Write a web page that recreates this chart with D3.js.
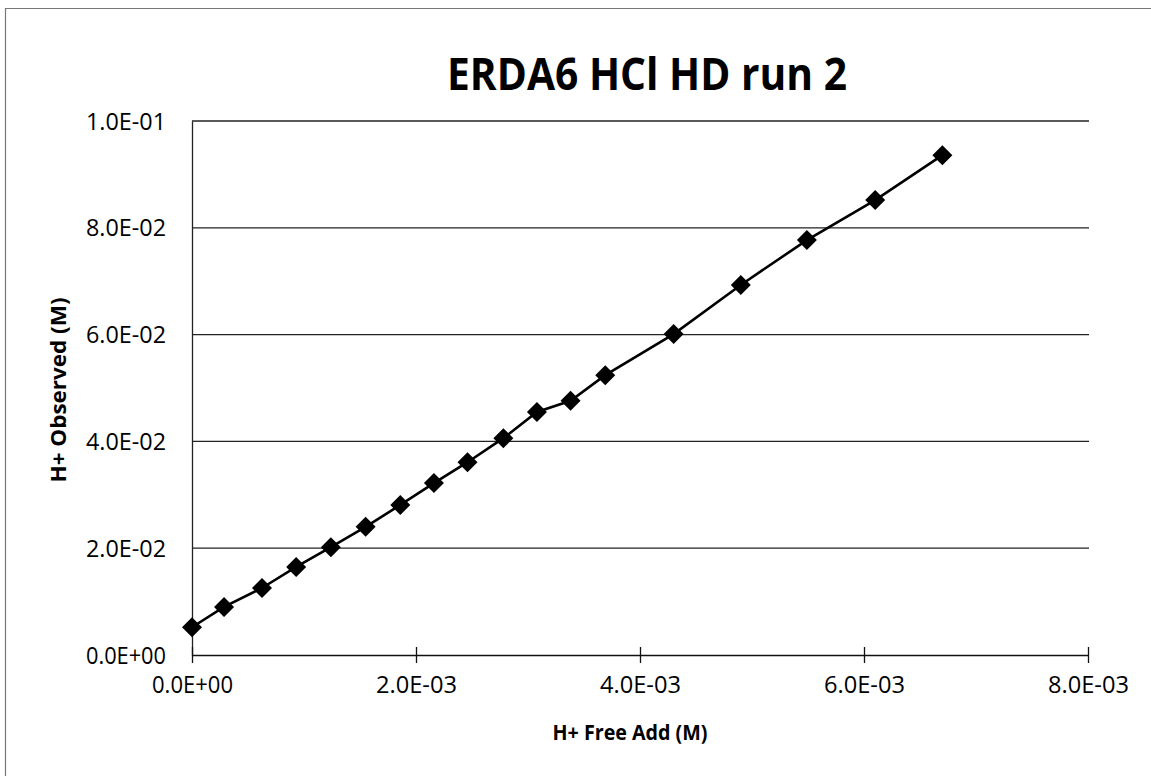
<!DOCTYPE html>
<html><head><meta charset="utf-8">
<script src="https://cdn.jsdelivr.net/npm/d3@7"></script>
<style>
html,body{margin:0;padding:0;background:#fff;}
text{font-family:"Open Sans",sans-serif;fill:#000;}
</style></head>
<body>
<svg id="c" width="1151" height="776"></svg>
<script>
const title = "ERDA6 HCl HD run 2";
const xTitle = "H+ Free Add (M)";
const yTitle = "H+ Observed (M)";
const xValues = [0, 0.000286, 0.000625, 0.00093, 0.00124, 0.00155, 0.00186, 0.00216, 0.00246, 0.00278, 0.00308, 0.00338, 0.00369, 0.0043, 0.0049, 0.00549, 0.0061, 0.0067];
const yValues = [0.0052, 0.0090, 0.01255, 0.0165, 0.0202, 0.0240, 0.0281, 0.0322, 0.0361, 0.0406, 0.0455, 0.0476, 0.0524, 0.0601, 0.0693, 0.0777, 0.0852, 0.0936];
const xTicks = [0, 0.002, 0.004, 0.006, 0.008];
const xTickLabels = ["0.0E+00", "2.0E-03", "4.0E-03", "6.0E-03", "8.0E-03"];
const yTicks = [0, 0.02, 0.04, 0.06, 0.08, 0.1];
const yTickLabels = ["0.0E+00", "2.0E-02", "4.0E-02", "6.0E-02", "8.0E-02", "1.0E-01"];

const svg = d3.select("#c");
const L = 192, R = 1088, T = 121, B = 655;
const x = d3.scaleLinear().domain([0, 0.008]).range([L, R]);
const y = d3.scaleLinear().domain([0, 0.1]).range([B, T]);

// outer frame (top and left edges visible)
svg.append("line").attr("x1",5).attr("x2",1151).attr("y1",8.5).attr("y2",8.5).attr("stroke","#777").attr("stroke-width",1.2);
svg.append("line").attr("x1",5.5).attr("x2",5.5).attr("y1",8).attr("y2",776).attr("stroke","#777").attr("stroke-width",1.2);

// gridlines
svg.append("g").selectAll("line").data(yTicks.slice(1)).join("line")
  .attr("x1", L).attr("x2", R + 1)
  .attr("y1", d => y(d)).attr("y2", d => y(d))
  .attr("stroke", "#222").attr("stroke-width", 1.3);

// y axis
const yAxis = d3.axisLeft(y).tickValues(yTicks).tickSize(0).tickPadding(26)
  .tickFormat((d,i) => yTickLabels[i]);
const gy = svg.append("g").attr("transform", `translate(${L},0)`).call(yAxis);
gy.select(".domain").attr("stroke","#222").attr("stroke-width",1.3);
gy.selectAll("text").style("font-size","23px").attr("font-family","Open Sans")
  .attr("textLength", 80).attr("lengthAdjust","spacingAndGlyphs").attr("dy","0.35em");

// x axis
const xAxis = d3.axisBottom(x).tickValues(xTicks).tickSizeInner(8).tickSizeOuter(0).tickPadding(14)
  .tickFormat((d,i) => xTickLabels[i]);
const gx = svg.append("g").attr("transform", `translate(0,${B})`).call(xAxis);
gx.select(".domain").attr("stroke","#111").attr("stroke-width",1.5);
gx.selectAll(".tick line").attr("y1",-8).attr("stroke","#111").attr("stroke-width",1.3);
gx.selectAll("text").style("font-size","23px").attr("font-family","Open Sans")
  .attr("textLength", 81).attr("lengthAdjust","spacingAndGlyphs");

// series line
const pts = xValues.map((v,i) => [v, yValues[i]]);
svg.append("path").datum(pts)
  .attr("fill","none").attr("stroke","#000").attr("stroke-width",2.6)
  .attr("d", d3.line().x(d => x(d[0])).y(d => y(d[1])));

// markers
svg.append("g").selectAll("path").data(pts).join("path")
  .attr("d", d3.symbol().type(d3.symbolSquare).size(200))
  .attr("transform", d => `translate(${x(d[0])},${y(d[1])}) rotate(45)`)
  .attr("fill","#000");

// titles
svg.append("text").attr("x", 647).attr("y", 90).attr("text-anchor","middle")
  .style("font-size","45px").style("font-weight","700")
  .attr("textLength", 400).attr("lengthAdjust","spacingAndGlyphs").text(title);
svg.append("text").attr("x", 630).attr("y", 740).attr("text-anchor","middle")
  .style("font-size","22px").style("font-weight","700")
  .attr("textLength", 155).attr("lengthAdjust","spacingAndGlyphs").text(xTitle);
svg.append("text").attr("transform","translate(66,390) rotate(-90)").attr("text-anchor","middle")
  .style("font-size","22px").style("font-weight","700")
  .attr("textLength", 185).attr("lengthAdjust","spacingAndGlyphs").text(yTitle);
</script>
</body></html>
